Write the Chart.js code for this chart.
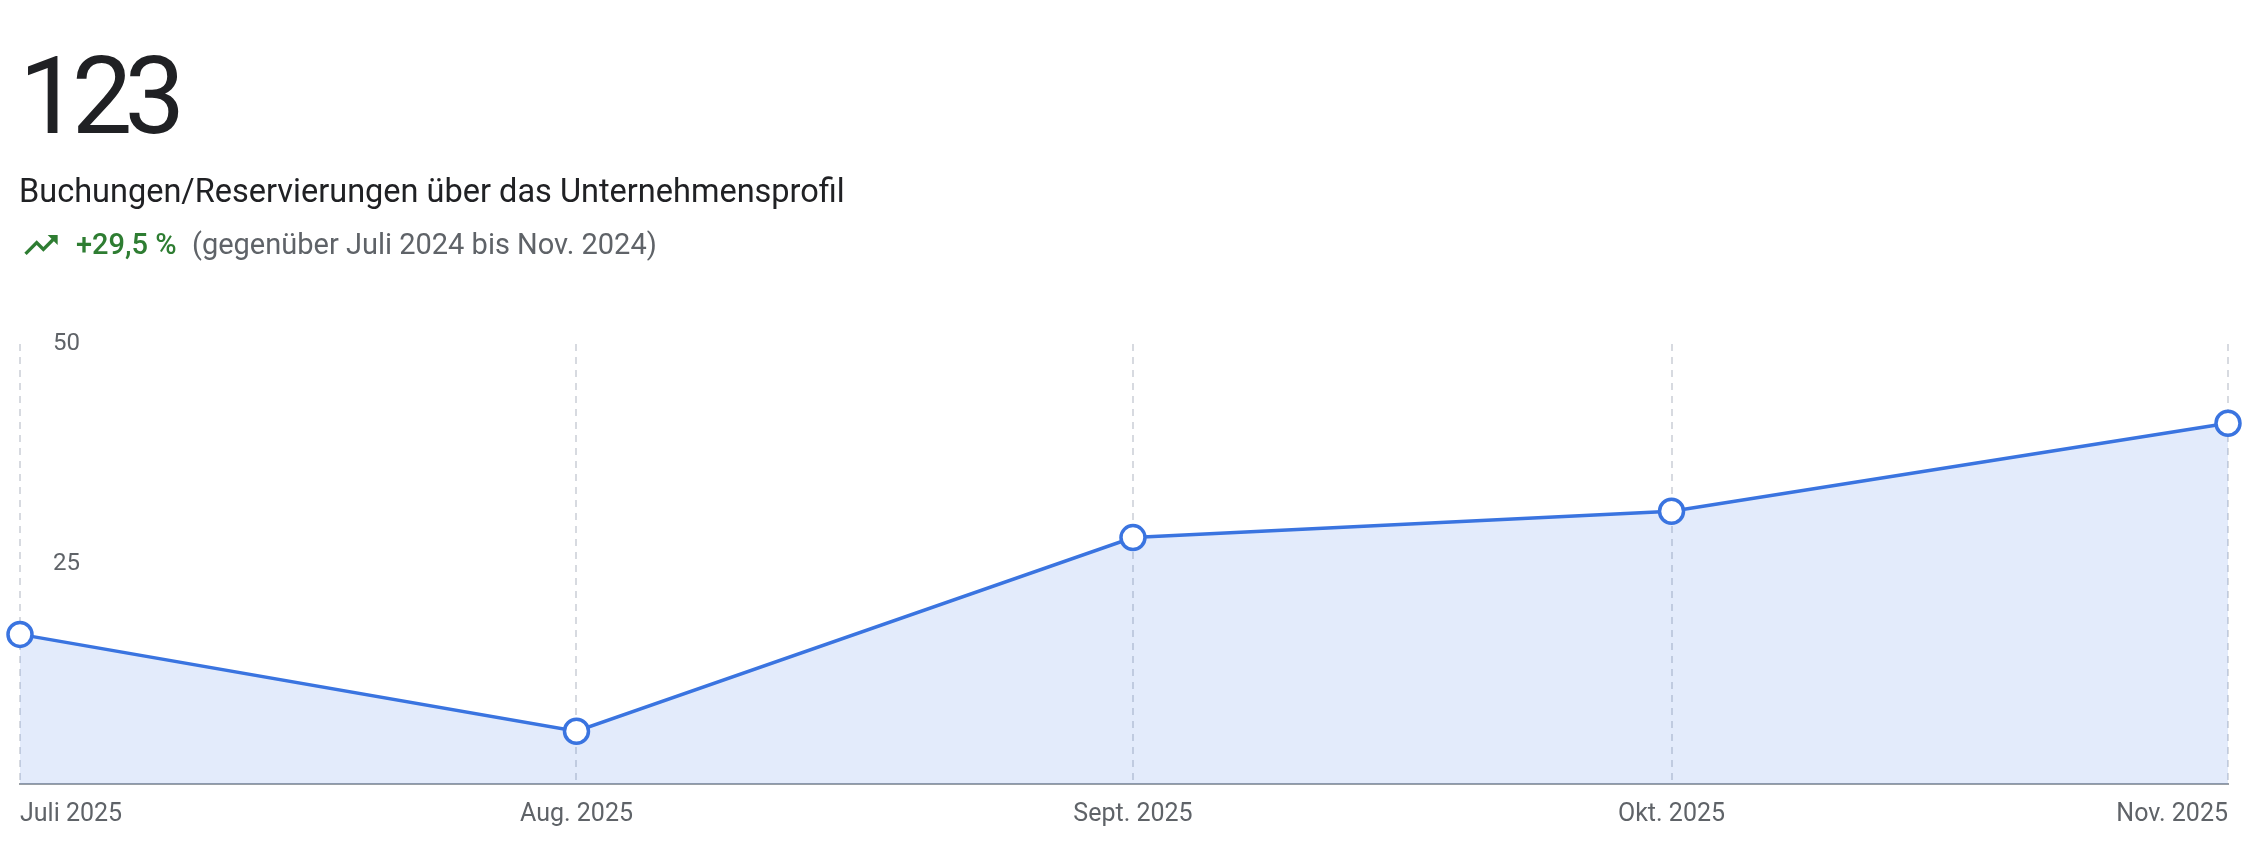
<!DOCTYPE html>
<html lang="de">
<head>
<meta charset="utf-8">
<title>Buchungen/Reservierungen</title>
<script src="https://cdn.jsdelivr.net/npm/chart.js@4/dist/chart.umd.min.js"></script>
<style>
  html, body { margin: 0; padding: 0; background: #fff; }
  body { width: 2258px; height: 848px; position: relative; overflow: hidden; font-family: Roboto, sans-serif; }
  .abs { position: absolute; white-space: nowrap; line-height: 1; }
  #total { left: 19px; top: 42px; font-size: 108px; font-weight: 400; letter-spacing: -8px; color: #202124; }
  #metric { left: 19px; top: 175px; font-size: 32.5px; color: #202124; }
  #trend-icon { left: 21px; top: 225px; width: 40px; height: 40px; }
  #change { left: 76px; top: 230px; font-size: 29px; font-weight: 500; color: #2e7d32; }
  #compare { left: 192px; top: 230px; font-size: 29px; color: #5f6368; }
  #chart-wrap { position: absolute; left: 0; top: 0; width: 2258px; height: 848px; }
</style>
</head>
<body>
<div id="chart-wrap"><canvas id="bookings-chart"></canvas></div>

<div id="total" class="abs">123</div>
<div id="metric" class="abs">Buchungen/Reservierungen über das Unternehmensprofil</div>
<svg id="trend-icon" class="abs" viewBox="0 0 24 24"><path fill="#2e7d32" d="M16 6l2.29 2.29-4.88 4.88-4-4L2 16.59 3.41 18l6-6 4 4 6.3-6.29L22 12V6z"/></svg>
<div id="change" class="abs">+29,5 %</div>
<div id="compare" class="abs">(gegenüber Juli 2024 bis Nov. 2024)</div>

<script>
// Monthly data points (first day of each month)
const monthDates = ['2025-07-01', '2025-08-01', '2025-09-01', '2025-10-01', '2025-11-01'];
const monthLabels = ['Juli 2025', 'Aug. 2025', 'Sept. 2025', 'Okt. 2025', 'Nov. 2025'];
const bookings = [17, 6, 28, 31, 41];
const yTicks = [25, 50];

const LINE_BLUE = '#3a74e0';
const DAY = 24 * 60 * 60 * 1000;

// days since first month, so the x spacing follows the calendar
const start = Date.parse(monthDates[0]);
const dayOffsets = monthDates.map(d => Math.round((Date.parse(d) - start) / DAY));

const ctx = document.getElementById('bookings-chart');

new Chart(ctx, {
  type: 'line',
  data: {
    datasets: [{
      label: 'Buchungen/Reservierungen',
      data: bookings.map((v, i) => ({ x: dayOffsets[i], y: v })),
      borderColor: LINE_BLUE,
      borderWidth: 3.5,
      backgroundColor: 'rgba(58, 115, 224, 0.14)',
      fill: 'origin',
      tension: 0,
      pointRadius: 12,
      pointBorderWidth: 3.5,
      pointBackgroundColor: '#ffffff',
      pointBorderColor: LINE_BLUE,
      clip: false
    }]
  },
  options: {
    responsive: true,
    maintainAspectRatio: false,
    animation: false,
    events: [],
    layout: {
      padding: { top: 344, left: 20, right: 30, bottom: 0 }
    },
    plugins: {
      legend: { display: false },
      tooltip: { enabled: false }
    },
    scales: {
      x: {
        type: 'linear',
        min: dayOffsets[0],
        max: dayOffsets[dayOffsets.length - 1],
        afterBuildTicks: (scale) => {
          scale.ticks = dayOffsets.map(v => ({ value: v }));
        },
        afterFit: (scale) => {
          scale.height = 64;
        },
        grid: {
          color: '#d7dae0',
          lineWidth: 2,
          drawTicks: false
        },
        border: {
          display: true,
          color: '#9aa0a6',
          width: 2,
          dash: [7, 6]
        },
        ticks: {
          autoSkip: false,
          maxRotation: 0,
          align: 'inner',
          padding: 16,
          color: '#5f6368',
          font: { family: 'Roboto', size: 25 },
          callback: (value, index) => monthLabels[index]
        }
      },
      y: {
        min: 0,
        max: 50,
        afterBuildTicks: (scale) => {
          scale.ticks = yTicks.map(v => ({ value: v }));
        },
        afterFit: (scale) => {
          scale.width = 0;
        },
        grid: { display: false },
        border: { display: false },
        ticks: {
          mirror: true,
          padding: 33,
          color: '#5f6368',
          font: { family: 'Roboto', size: 24 }
        }
      }
    }
  }
});
</script>
</body>
</html>
